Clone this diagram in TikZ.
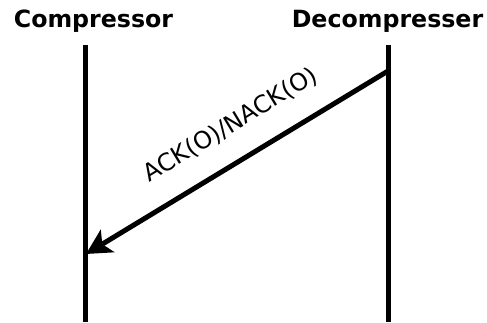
\documentclass[tikz,border=0pt]{standalone}
\usepackage{fontspec}
\setmainfont{DejaVu Sans}
\usetikzlibrary{arrows.meta}
\begin{document}
\begin{tikzpicture}[x=1pt, y=-1pt,
        head/.style={anchor=base, inner sep=0pt, font=\fontsize{23.7}{28}\selectfont\bfseries},
        lifeline/.style={line width=5pt},
        msg/.style={-{Stealth[length=25pt, width=26pt, inset=6pt]}, line width=5pt},
        msglabel/.style={above=22pt, inner sep=0pt, sloped, pos=0.46, font=\fontsize{24}{28}\selectfont}
    ]
        \useasboundingbox (0,0) rectangle (487,323);
        \node[head] (comp)   at (93.5,28)  {Compressor};
        \node[head] (decomp) at (387.5,28) {Decompresser};

        \coordinate (compbot)   at (85,322);
        \coordinate (decompbot) at (388,322);
        \coordinate (comptop)   at (85,45);
        \coordinate (decomptop) at (388,45);
        \coordinate (acksend)   at (388,71);
        \coordinate (ackrecv)   at (86,254);

        \draw[lifeline] (comptop) -- (compbot);
        \draw[lifeline] (decomptop) -- (decompbot);
        \draw[msg] (acksend) -- node[msglabel]{ACK(O)/NACK(O)} (ackrecv);
    \end{tikzpicture}
\end{document}
